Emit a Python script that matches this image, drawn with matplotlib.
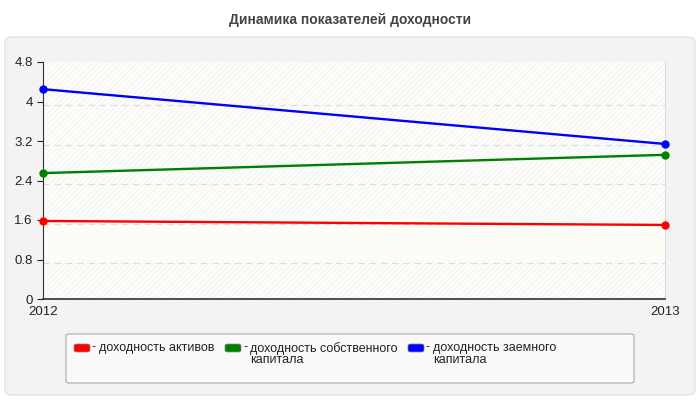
import numpy as np
import matplotlib
matplotlib.use("Agg")
import matplotlib.pyplot as plt
from matplotlib.patches import FancyBboxPatch, Rectangle

plt.rcParams['font.family'] = ['Liberation Sans', 'DejaVu Sans']
plt.rcParams['hatch.linewidth'] = 0.6

# Данные
years = ["2012", "2013"]
roa = [1.58, 1.50]          # доходность активов
roe = [2.55, 2.92]          # доходность собственного капитала
rob = [4.25, 3.14]          # доходность заемного капитала
series_names = ["доходность активов", "доходность собственного\nкапитала",
                "доходность заемного\nкапитала"]
y_ticks = [0, 0.8, 1.6, 2.4, 3.2, 4, 4.8]

series = [roa, roe, rob]
colors = ["#ff0000", "#008000", "#0000ff"]

fig = plt.figure(figsize=(7, 4), dpi=100)
fig.patch.set_facecolor("white")

# Серая панель с закругленными углами
panel = FancyBboxPatch((5 / 700, 5 / 400), 690 / 700, 358 / 400,
                       boxstyle="round,pad=0,rounding_size=0.012",
                       transform=fig.transFigure, facecolor="#f3f3f3",
                       edgecolor="#dddddd", linewidth=0.8, zorder=-5)
fig.patches.append(panel)

fig.text(0.5, 1 - 20 / 400, "Динамика показателей доходности", ha="center",
         va="center", fontsize=10, fontweight="bold", color="#444444")

ax = fig.add_axes([43 / 700, 101 / 400, 622 / 700, 237 / 400])
ax.set_facecolor("#fdfdf7")

x = np.arange(len(years))
ax.set_xlim(0, len(years) - 1)
ax.set_ylim(0, 4.8)

# Фон: слабая штриховка по полосам
for i in range(len(y_ticks) - 1):
    if y_ticks[i] == 0.8:
        continue
    ax.add_patch(Rectangle((0, y_ticks[i]), 1, y_ticks[i + 1] - y_ticks[i],
                           transform=ax.get_yaxis_transform(), facecolor="#fdfdfb",
                           edgecolor="#f1f1ee", hatch="//////", linewidth=0, zorder=0))

for v in y_ticks[1:-1]:
    ax.axhline(v - 0.08, color="#dddddd", linestyle=(0, (5, 4)), linewidth=0.9, zorder=1)

for vals, c in zip(series, colors):
    ax.plot(x, vals, color=c, linewidth=1.7, marker="o", markersize=5, zorder=3,
            clip_on=False)

ax.set_xticks(x)
ax.set_xticklabels(years)
ax.set_yticks(y_ticks)
ax.set_yticklabels(["0", "0.8", "1.6", "2.4", "3.2", "4", "4.8"])
ax.tick_params(axis="both", labelsize=9.5, colors="#222222", length=4, width=0.8)
ax.tick_params(axis="x", length=0, pad=5)
ax.spines["top"].set_visible(False)
ax.spines["right"].set_color("#dddddd")
ax.spines["left"].set_color("#333333")
ax.spines["bottom"].set_color("#333333")
ax.spines["bottom"].set_linewidth(1.2)

# Легенда
leg_box = FancyBboxPatch((66 / 700, 17 / 400), 568 / 700, 49 / 400,
                         boxstyle="round,pad=0,rounding_size=0.005",
                         transform=fig.transFigure, facecolor="#f9f9f9",
                         edgecolor="#aaaaaa", linewidth=0.8)
fig.patches.append(leg_box)
leg_x = [74, 225, 408]
for lx, name, c in zip(leg_x, series_names, colors):
    sw = FancyBboxPatch((lx / 700, 1 - 352 / 400), 16 / 700, 8 / 400,
                        boxstyle="round,pad=0,rounding_size=0.004",
                        transform=fig.transFigure, facecolor=c,
                        edgecolor="#888888", linewidth=0.5)
    fig.patches.append(sw)
    fig.text((lx + 18) / 700, 1 - 347 / 400, "-", fontsize=9, va="center",
             color="#222222")
    fig.text((lx + 25) / 700, 1 - 342 / 400, name, fontsize=9, va="top",
             color="#222222", linespacing=0.95)

fig.savefig("out.png", dpi=100)
